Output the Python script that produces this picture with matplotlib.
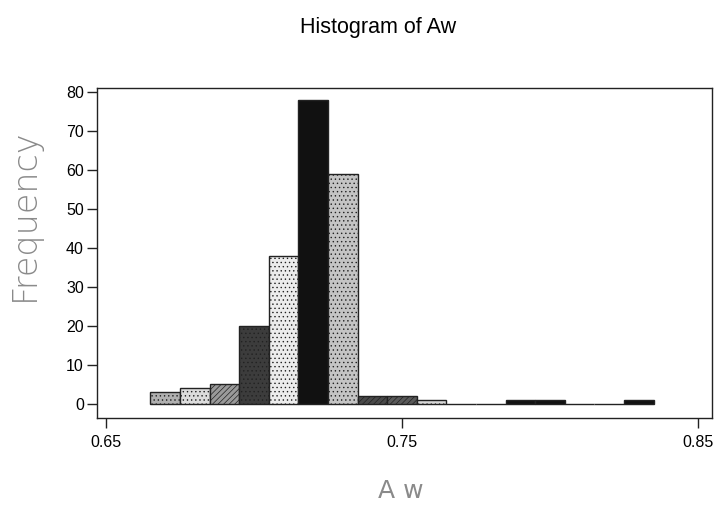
import matplotlib
matplotlib.use("Agg")
import matplotlib.pyplot as plt

# Data (bin centres and counts)
bin_centers = [0.67, 0.68, 0.69, 0.70, 0.71, 0.72, 0.73, 0.74, 0.75, 0.76,
               0.77, 0.78, 0.79, 0.80, 0.81, 0.82, 0.83]
counts = [3, 4, 5, 20, 38, 78, 59, 2, 2, 1, 0, 0, 1, 1, 0, 0, 1]
bin_width = 0.01
x_ticks = [0.65, 0.75, 0.85]
x_tick_labels = ["0.65", "0.75", "0.85"]
y_ticks = [0, 10, 20, 30, 40, 50, 60, 70, 80]

# Styles (per bar fill, mimicking Minitab pattern fills)
face_colors = ["#b0b0b0", "#dcdcdc", "#9a9a9a", "#3c3c3c", "#ececec", "#111111",
               "#c4c4c4", "#4a4a4a", "#5a5a5a", "#d8d8d8", "#ffffff", "#ffffff",
               "#111111", "#111111", "#ffffff", "#ffffff", "#111111"]
hatches = ["....", "....", "//////", "....", "....", "", "....", "//////", "//////",
           "....", "", "", "", "", "", "", ""]

plt.rcParams['font.family'] = ['Liberation Sans', 'DejaVu Sans']
plt.rcParams['hatch.linewidth'] = 0.5

fig = plt.figure(figsize=(7.15, 5.05), dpi=100)
ax = fig.add_axes([0.1357, 0.1723, 0.8601, 0.6534])

for c, n, fc, h in zip(bin_centers, counts, face_colors, hatches):
    ax.bar(c, n, width=bin_width, color=fc, edgecolor="#222222", linewidth=1.0,
           hatch=h, align="center")

ax.set_xlim(0.647, 0.8547)
ax.set_ylim(-3.6, 81.0)
ax.set_xticks(x_ticks)
ax.set_xticklabels(x_tick_labels)
ax.set_yticks(y_ticks)
ax.tick_params(direction="out", length=7.5, width=1.0, labelsize=11.5, color="#222222")
ax.tick_params(axis="x", pad=5)
ax.tick_params(axis="y", pad=2)
for s in ax.spines.values():
    s.set_linewidth(1.0)
    s.set_color("#222222")

fig.text(0.529, 0.945, "Histogram of Aw", ha="center", va="center", fontsize=15.5)
fig.text(0.034, 0.574, "Frequency", ha="center", va="center", rotation=90,
         fontsize=24, color="#8a8a8a", fontweight="light", family=["DejaVu Sans"])
fig.text(0.56, 0.028, "A w", ha="center", va="center", fontsize=18,
         color="#8a8a8a", family=["DejaVu Sans"])

fig.savefig("out.png", dpi=100)
